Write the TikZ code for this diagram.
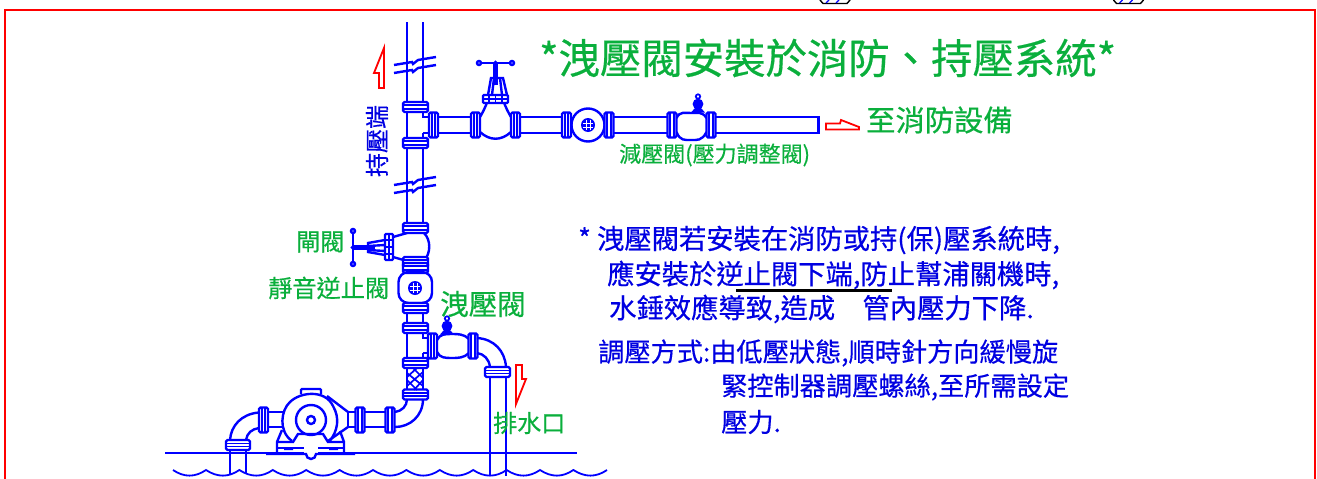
\documentclass[tikz,border=0pt]{standalone}
\usepackage{fontspec}
\setmainfont[FakeBold=0.45]{Noto Sans CJK TC}
\definecolor{pipeblue}{RGB}{0,0,255}
\definecolor{txtblue}{RGB}{0,0,225}
\definecolor{txtgreen}{RGB}{10,175,60}
\definecolor{framered}{RGB}{255,0,0}
\tikzset{
  pipe/.style={draw=pipeblue,line width=2.4pt},
  thin pipe/.style={draw=pipeblue,line width=1.7pt},
  redarrow/.style={draw=framered,line width=1.8pt,line join=miter},
  glabel/.style={text=txtgreen,inner sep=0pt,anchor=west},
  blabel/.style={text=txtblue,inner sep=0pt,anchor=west,font=\fontsize{27.3}{27.3}\selectfont},
  blabelb/.style={text=txtblue,inner sep=0pt,anchor=west,font=\fontsize{26.2}{26.2}\selectfont}
}
% flange across a vertical pipe: centre x, centre y
\newcommand{\flangeH}[2]{%
  \draw[pipe,fill=white,rounded corners=1.5pt] (#1-12.5,#2-5) rectangle (#1+12.5,#2+5);
  \draw[thin pipe] (#1-12.5,#2-1.7) -- (#1+12.5,#2-1.7) (#1-12.5,#2+1.7) -- (#1+12.5,#2+1.7);}
% flange across a horizontal pipe
\newcommand{\flangeV}[2]{%
  \draw[pipe,fill=white,rounded corners=1.5pt] (#1-4.5,#2-12.5) rectangle (#1+4.5,#2+12.5);
  \draw[thin pipe] (#1-1.7,#2-12.5) -- (#1-1.7,#2+12.5) (#1+1.7,#2-12.5) -- (#1+1.7,#2+12.5);}
% round disc with cross
\newcommand{\discmark}[2]{%
  \fill[pipeblue] (#1,#2) circle (7);
  \draw[white,line width=.35pt] (#1-5,#2-2) -- (#1+5,#2-2) (#1-5,#2+2) -- (#1+5,#2+2) (#1-2,#2-5) -- (#1-2,#2+5) (#1+2,#2-5) -- (#1+2,#2+5);}
% pipe break
\newcommand{\breakmark}[1]{%
  \draw[pipe] (394,#1+4) -- (412,#1+1) -- (413,#1+3) -- (418,#1-1) -- (436,#1-4);}
% gauge
\newcommand{\gauge}[2]{%
  \fill[pipeblue] (#1,#2) circle (5.4);
  \fill[pipeblue] (#1-7,#2+8.5) -- (#1-3,#2+4) -- (#1+3,#2+4) -- (#1+7,#2+8.5) -- cycle;
  \draw[thin pipe] (#1,#2-7.5) circle (2.2);}
\begin{document}
\begin{tikzpicture}[x=1pt,y=-1pt]
\useasboundingbox (0,0) rectangle (1317,479);
% frame
\draw[framered,line width=1.8pt] (5,479) -- (5,10) -- (1315,10) -- (1315,479);
% cut-off marks at the top
\foreach \cx in {835,1128.5}{
  \draw[black,line width=1.4pt] (\cx-15,0) -- (\cx-12,3.5) -- (\cx+12,3.5) -- (\cx+15,0);
  \draw[pipeblue,line width=1.2pt] (\cx-9,3) -- (\cx-6,0) (\cx+1,3) -- (\cx+4,0);
}
% main riser
\draw[pipe] (407,22) -- (407,103) (423,22) -- (423,103);
\breakmark{61}\breakmark{69}
\draw[pipe] (407,112) -- (407,138) (423,112) -- (423,117) -- (429,117) (423,133) -- (429,133) (423,133) -- (423,138);
\draw[pipe] (407,148) -- (407,223) (423,148) -- (423,223);
\breakmark{181}\breakmark{189}
\flangeH{415.5}{107}\flangeH{415.5}{143}
% horizontal branch
\draw[pipe] (438,117) -- (471,117) (438,133) -- (471,133);
\draw[pipe] (480,117) .. controls (483,112) and (485,108) .. (488,100);
\draw[pipe] (511,117) .. controls (508,112) and (506,108) .. (503,100);
\draw[pipe] (480,132) .. controls (490,141) and (501,141) .. (511,132);
\flangeV{433.5}{125}\flangeV{475.5}{125}\flangeV{515.5}{125}
% rising stem valve top
\draw[pipe] (488,95) -- (491,78) -- (503,78) -- (507,95);
\draw[pipe] (494,78) -- (492,95) (500,78) -- (502,95);
\draw[pipe,fill=white,rounded corners=1pt] (483,95) rectangle (508,103);
\draw[thin pipe] (483,99) -- (508,99) (489,95) -- (489,103) (495.5,95) -- (495.5,103) (502,95) -- (502,103);
\draw[pipeblue,line width=4.5pt] (495.5,62) -- (495.5,85);
\draw[pipe] (480,63) -- (511,63);
\draw[pipe,fill=white] (479,63) circle (2);
\draw[pipe,fill=white] (512,63) circle (2);
\draw[thin pipe,fill=white] (495.5,63) circle (1.5);
% branch to check valve
\draw[pipe] (520,117) -- (562,117) (520,133) -- (562,133);
\draw[pipe] (588,125) circle (16.5);
\flangeV{566.5}{125}\flangeV{609}{125}
\discmark{588}{125}
\draw[pipe] (613.5,117) -- (667.5,117) (613.5,133) -- (667.5,133);
\draw[pipe] (676.5,118) .. controls (680,111) and (685,113) .. (691,113) .. controls (697,113) and (702,111) .. (706.5,118)
   (676.5,132) .. controls (680,141) and (685,140) .. (691,140) .. controls (697,140) and (702,141) .. (706.5,132);
\flangeV{672}{125}\flangeV{711}{125}
\gauge{698}{104}
\draw[pipe] (715.5,117) -- (818.5,117) -- (818.5,133) -- (715.5,133);
% gate valve on riser
\draw[pipe] (424,233) .. controls (431,240) and (431,253) .. (424,261);
\draw[pipe] (393,237) -- (407,233) (393,257) -- (407,261);
\flangeH{415.5}{228}\flangeH{415.5}{262}\flangeH{415.5}{268}
\draw[pipe,fill=white,rounded corners=1pt] (385,234) rectangle (393,260);
\draw[thin pipe] (389,234) -- (389,260) (385,240) -- (393,240) (385,247) -- (393,247) (385,254) -- (393,254);
\draw[pipe] (385,240) -- (368,243) -- (368,252) -- (385,255);
\draw[pipe] (368,246) -- (385,245) (368,250) -- (385,251);
\draw[pipeblue,line width=4.5pt] (353,247.5) -- (375,247.5);
\draw[pipe] (353,231) -- (353,264);
\draw[pipe,fill=white] (353,231) circle (2);
\draw[pipe,fill=white] (353,264) circle (2);
\draw[thin pipe,fill=white] (353,247.5) circle (1.5);
% silent check valve
\draw[pipe,rounded corners=10pt] (398.5,272) rectangle (432,303);
\discmark{415}{288}
\flangeH{415.5}{308}\flangeH{415.5}{328}\flangeH{415.5}{363}\flangeH{415.5}{394.5}
\draw[pipe] (407,313) -- (407,323) (423,313) -- (423,323);
\draw[pipe] (407,333) -- (407,358) (423,333) -- (423,338) -- (428,338) (423,353) -- (428,353) (423,353) -- (423,358);
% flexible joint
\draw[pipe] (407,368) -- (407,390) (423,368) -- (423,390);
\draw[thin pipe] (407,373) -- (423,386) (407,380) -- (417,390) (413,368) -- (423,378)
 (423,372) -- (407,386) (423,380) -- (414,390) (417,368) -- (407,377);
% relief valve branch
\draw[pipe] (437,340) .. controls (440,334) and (445,334) .. (452,334) .. controls (458,334) and (464,334) .. (469,339)
  (437,352) .. controls (440,358) and (445,358) .. (452,358) .. controls (458,358) and (464,358) .. (469,353);
\flangeV{432.5}{346}\flangeV{473}{346}
\gauge{447}{326}
% relief elbow and drain
\draw[pipe] (477,338) .. controls (494,339) and (505,351) .. (506,367);
\draw[pipe] (477,353) .. controls (484,354) and (489,359) .. (490,367);
\draw[pipe,rounded corners=1.5pt] (485,367) rectangle (510,377);
\draw[thin pipe] (485,370.5) -- (510,370.5) (485,373.5) -- (510,373.5);
\draw[pipe] (490,377) -- (490,476) (506,377) -- (506,476);
% lower elbow
\draw[pipe] (423,399) .. controls (423,416) and (410,427) .. (395,427);
\draw[pipe] (407,399) .. controls (407,406) and (402,411) .. (395,412);
\flangeV{390}{420}\flangeV{360}{420}
\draw[pipe] (364.5,412) -- (385.5,412) (364.5,427) -- (385.5,427);
% pump
\draw[pipe] (348,412) -- (355.5,412) (348,427) -- (355.5,427) (348,412) -- (348,427);
\draw[pipe] (327,396) -- (348,412) (328,441) -- (348,427);
\draw[pipe] (283.5,412) -- (268,412) (283.5,427) -- (268,427);
\draw[pipe,rounded corners=1pt] (301,394) -- (301,389) -- (321,389) -- (321,394);
\draw[pipe] (292,441) .. controls (278,431) and (281,410) .. (290,402) .. controls (300,392) and (325,389) .. (333,406) .. controls (340,418) and (338,431) .. (329,442);
\draw[pipe] (311,420) circle (15);
\draw[pipe] (311,420) circle (4);
% pump base
\draw[pipe] (277,453) -- (277,442) -- (282,430) (344,453) -- (344,442) -- (340,431);
\draw[pipe] (277,442) -- (293,442) -- (298,434) -- (323,434) -- (328,442) -- (344,442);
\draw[pipe] (277,448) -- (304,448) (318,448) -- (344,448);
\fill[pipeblue] (284,447) rectangle (293,450) (329,447) rectangle (338,450);
\draw[pipe] (266,454) -- (306,454) arc (180:0:5) -- (355,454);
% suction
\flangeV{263.5}{420}
\draw[pipe] (259,412.5) .. controls (241,414) and (231,426) .. (230,440);
\draw[pipe] (259,428) .. controls (252,429) and (247,433) .. (246,440);
\draw[pipe,rounded corners=1.5pt] (226,440) rectangle (250,450);
\draw[thin pipe] (226,443.5) -- (250,443.5) (226,446.5) -- (250,446.5);
\draw[pipe] (230,450) -- (230,474) (246,450) -- (246,474);
% ground and water
\draw[pipe] (165,453) -- (304,453) (318,453) -- (577,453);
\draw[pipeblue,line width=1.8pt] (173,470)
  \foreach \wx in {206,239.4,272.8,306.2,339.6,373,406.4,439.8,473.2,506.6,540,573.4,607}{
    .. controls (\wx-22,477.5) and (\wx-11,477.5) .. (\wx,470)};
% red arrows
\draw[redarrow] (384,48) -- (374,73) -- (379,73) -- (379,88) -- (384,88) -- cycle;
\draw[redarrow] (826,123.5) -- (840,123.5) -- (841,120) -- (859,127) -- (859,129.5) -- (826,129.5) -- cycle;
\draw[redarrow] (516,365) -- (522,365) -- (522,379) -- (526,379) -- (516,404) -- cycle;
% labels
\node[glabel,font=\fontsize{41.4}{41.4}\selectfont] (title) at (539,58) {*洩壓閥安裝於消防、持壓系統*};
\node[glabel,font=\fontsize{29.3}{29}\selectfont] (toequip) at (866,120) {至消防設備};
\node[glabel,font=\fontsize{22}{22}\selectfont] (prv) at (619,155) {減壓閥(壓力調整閥)};
\node[glabel,font=\fontsize{24}{24}\selectfont] (gate) at (296,242) {閘閥};
\node[glabel,font=\fontsize{24.2}{24}\selectfont] (check) at (268,288) {靜音逆止閥};
\node[glabel,font=\fontsize{28.5}{29}\selectfont] (relief) at (440,304) {洩壓閥};
\node[glabel,font=\fontsize{24}{24}\selectfont] (drain) at (493,423) {排水口};
\node[text=txtblue,inner sep=0pt,rotate=90,font=\fontsize{24}{24}\selectfont] (hold) at (377,141) {持壓端};
\node[blabel] (l1) at (578,240) {* 洩壓閥若安裝在消防或持(保)壓系統時,};
\node[blabel] (l2) at (607,275) {應安裝於逆止閥下端,防止幫浦關機時,};
\node[blabel] (l3) at (609,309) {水錘效應導致,造成　管內壓力下降.};
\node[blabelb] (l4) at (598,353) {調壓方式:由低壓狀態,順時針方向緩慢旋};
\node[blabelb] (l5) at (721,387) {緊控制器調壓螺絲,至所需設定};
\node[blabelb] (l6) at (721,422) {壓力.};
\draw[black,line width=3pt] (736,290) -- (892,290);
\end{tikzpicture}
\end{document}
